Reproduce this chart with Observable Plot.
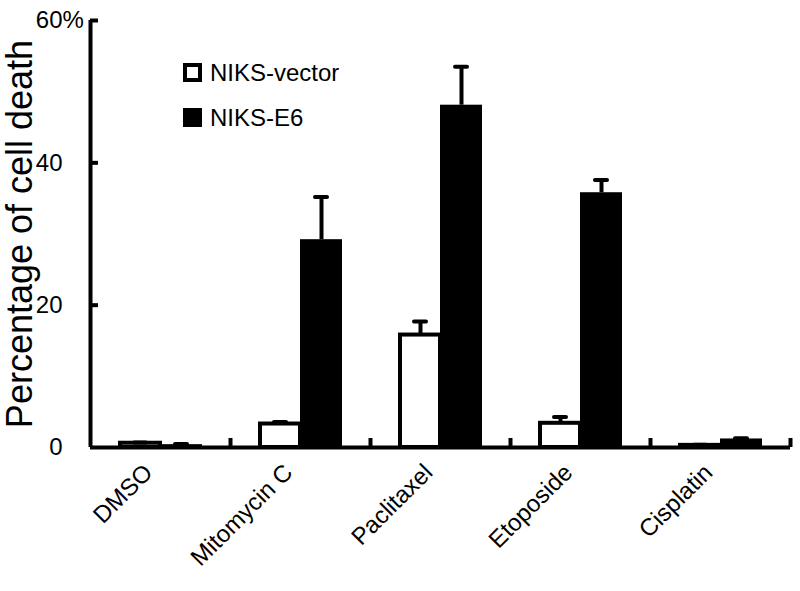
<!DOCTYPE html>
<html>
<head>
<meta charset="utf-8">
<script src="https://cdn.jsdelivr.net/npm/d3@7"></script>
<script src="https://cdn.jsdelivr.net/npm/@observablehq/plot@0.6"></script>
<style>
  html, body { margin: 0; padding: 0; background: #fff; }
  #wrap { position: relative; width: 800px; height: 591px; font-family: "Liberation Sans", Arial, sans-serif; }
  #legend { position: absolute; left: 183px; top: 62px; font-size: 24px; color: #000; }
  .item { display: flex; align-items: center; height: 21px; margin-bottom: 24px; }
  .sw { width: 19px; height: 19px; box-sizing: border-box; border: 4px solid #000; margin-right: 8px; }
</style>
</head>
<body>
<div id="wrap"></div>
<script>
const categories = ["DMSO", "Mitomycin C", "Paclitaxel", "Etoposide", "Cisplatin"];
const seriesNames = ["NIKS-vector", "NIKS-E6"];
const vectorMean = [0.6, 3.3, 15.8, 3.4, 0.3];
const vectorErr = [0.1, 0.3, 1.9, 0.9, 0.1];
const e6Mean = [0.4, 29.2, 48.1, 35.8, 1.2];
const e6Err = [0.1, 6.0, 5.4, 1.8, 0.1];
const yTicks = [0, 20, 40, 60];
const yLabel = "Percentage of cell death";

const vec = categories.map((c, i) => ({cat: c, mean: vectorMean[i], err: vectorErr[i]}));
const e6 = categories.map((c, i) => ({cat: c, mean: e6Mean[i], err: e6Err[i]}));

const W = 800, H = 591, ML = 90, MR = 10, MT = 20, MB = 144;
const bw = (W - ML - MR) / categories.length;
const innerH = H - MT - MB;

const chart = Plot.plot({
  width: W, height: H,
  marginLeft: ML, marginRight: MR, marginTop: MT, marginBottom: MB,
  style: {fontFamily: "'Liberation Sans', Arial, sans-serif", color: "#000", background: "#fff", overflow: "visible"},
  x: {domain: categories, padding: 0},
  y: {domain: [0, 60]},
  marks: [
    Plot.barY(vec, {x: "cat", y: "mean", fill: "#fff", stroke: "#000", strokeWidth: 4, insetLeft: 30, insetRight: bw - 70}),
    Plot.barY(e6, {x: "cat", y: "mean", fill: "#000", insetLeft: 70, insetRight: 28}),
    Plot.ruleX(vec, {x: "cat", y1: "mean", y2: d => d.mean + d.err, dx: -20, strokeWidth: 4}),
    Plot.ruleX(e6, {x: "cat", y1: "mean", y2: d => d.mean + d.err, dx: 21, strokeWidth: 4}),
    Plot.tickY(vec, {x: "cat", y: d => d.mean + d.err, insetLeft: 44, insetRight: bw - 56, strokeWidth: 4, strokeLinecap: "round"}),
    Plot.tickY(e6, {x: "cat", y: d => d.mean + d.err, insetLeft: 85, insetRight: bw - 97, strokeWidth: 4, strokeLinecap: "round"}),
    // axes
    Plot.ruleY([0], {strokeWidth: 4}),
    Plot.ruleX([categories[0]], {x: d => d, y1: 0, y2: 60, dx: -bw / 2, strokeWidth: 4}),
    Plot.tickY(yTicks.filter(d => d > 0), {x: () => categories[0], y: d => d, insetRight: bw - 8, strokeWidth: 4}),
    Plot.ruleX(categories, {x: d => d, dx: bw / 2, insetTop: innerH - 9, strokeWidth: 4}),
    Plot.axisY(yTicks, {tickSize: 0, tickPadding: 28, fontSize: 24, tickFormat: d => String(d), label: null}),
    Plot.text(["%"], {x: () => categories[0], y: () => 60, dx: -bw / 2 - 28, textAnchor: "start", fontSize: 24}),
    Plot.axisX({tickSize: 0, tickPadding: 21, tickRotate: -45, fontSize: 24, dx: -12, label: null}),
    Plot.text([yLabel], {frameAnchor: "left", textAnchor: "middle", rotate: -90, dx: -70, fontSize: 36})
  ]
});

const wrap = document.getElementById("wrap");
wrap.appendChild(chart);
const legend = document.createElement("div");
legend.id = "legend";
seriesNames.forEach((name, i) => {
  const item = document.createElement("div");
  item.className = "item";
  const sw = document.createElement("div");
  sw.className = "sw";
  sw.style.background = i === 0 ? "#fff" : "#000";
  const t = document.createElement("span");
  t.textContent = name;
  item.appendChild(sw);
  item.appendChild(t);
  legend.appendChild(item);
});
wrap.appendChild(legend);
</script>
</body>
</html>
